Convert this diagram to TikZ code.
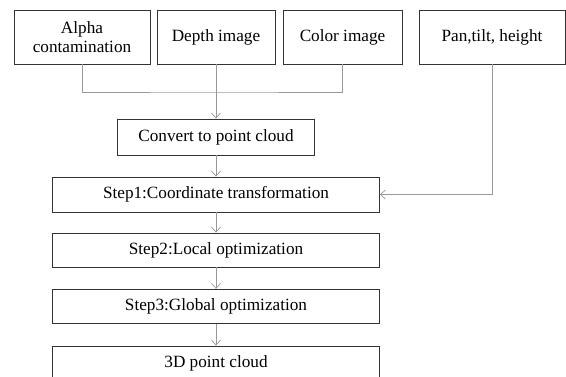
\documentclass[tikz,border=0pt]{standalone}
\usepackage{fontspec}
\setmainfont{Liberation Serif}
\usetikzlibrary{arrows.meta}
\begin{document}
\begin{tikzpicture}[x=1bp,y=-1bp,
  box/.style={draw=black!80, line width=0.9bp, inner sep=0pt, align=center,
    font=\fontsize{17.2bp}{19bp}\selectfont},
  conn/.style={draw=black!40, line width=0.8bp},
  arr/.style={conn, -{Straight Barb[length=5bp,width=9bp,line width=0.7bp]}}]
\useasboundingbox (0,0) rectangle (566,376);
\node[box, minimum width=136bp, minimum height=54bp] (alpha) at (82,37) {Alpha\\contamination};
\node[box, minimum width=118bp, minimum height=54bp] (depth) at (216,37) {Depth image};
\node[box, minimum width=119bp, minimum height=54bp] (color) at (342.5,37) {Color image};
\node[box, minimum width=146bp, minimum height=54bp] (pan) at (492,37) {Pan,tilt, height};
\node[box, minimum width=197bp, minimum height=36bp] (convert) at (216,137) {Convert to point cloud};
\node[box, minimum width=327bp, minimum height=35bp] (s1) at (216,194.5) {Step1:Coordinate transformation};
\node[box, minimum width=327bp, minimum height=34bp] (s2) at (216,250) {Step2:Local optimization};
\node[box, minimum width=327bp, minimum height=34bp] (s3) at (216,306.3) {Step3:Global optimization};
\node[box, minimum width=327bp, minimum height=34bp] (pc) at (216,363) {3D point cloud};
\coordinate (j) at (216,92);
\draw[conn] (alpha.south) |- (j) -| (color.south);
\draw[arr] (depth.south) -- (convert.north);
\draw[arr] (pan.south) |- (s1.east);
\draw[arr] (convert.south) -- (s1.north);
\draw[arr] (s1.south) -- (s2.north);
\draw[arr] (s2.south) -- (s3.north);
\draw[arr] (s3.south) -- (pc.north);
\end{tikzpicture}
\end{document}
